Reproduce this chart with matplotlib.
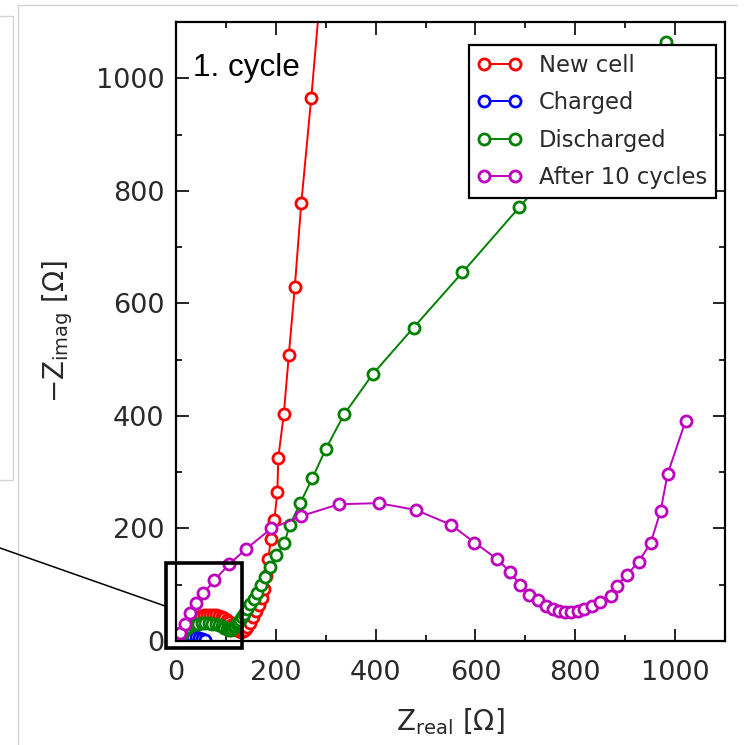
import matplotlib
matplotlib.use("Agg")
import matplotlib.pyplot as plt
from matplotlib.lines import Line2D
from matplotlib.patches import Rectangle
from matplotlib.ticker import MultipleLocator

# impedance spectra, values (Ohm)
new_cell_re = [5, 8, 11, 14, 18, 22, 27, 32, 38, 44, 50, 56, 62, 68, 74, 80, 86, 92, 97,
               102, 107, 111, 115, 119, 123, 127, 131, 135, 139, 143, 148, 155, 161, 167,
               172, 177, 181, 185, 190, 197, 203, 205, 216, 226, 238, 251, 271, 292]
new_cell_im = [2, 6, 11, 16, 21, 26, 31, 35, 39, 42, 44, 46, 47, 47, 47, 46, 45, 43, 40,
               37, 33, 29, 25, 22, 19, 17, 16, 17, 20, 25, 32, 42, 53, 64,
               77, 93, 115, 146, 181, 215, 264, 326, 403, 508, 629, 778, 965, 1180]

charged_re = [4, 8, 13, 19, 26, 33, 40, 47, 53, 58]
charged_im = [1, 3, 5, 7, 8, 8, 7, 5, 3, 1]

discharged_re = [5, 8, 12, 16, 21, 26, 32, 38, 45, 52, 59, 66, 73, 80, 86, 92, 97, 102,
                 106, 110, 113, 116, 119, 122, 125, 128, 132, 137, 143, 149, 156, 163,
                 170, 178, 188, 201, 217, 228, 249, 273, 300, 337, 394, 476, 574, 688,
                 822, 981]
discharged_im = [2, 7, 12, 17, 21, 25, 28, 30, 31, 32, 32, 32, 31, 30, 28, 26, 23, 21,
                 19, 19, 21, 24, 27, 30, 34, 38, 43, 48, 56, 65, 75, 86,
                 99, 114, 131, 152, 174, 206, 245, 289, 341, 403, 474, 557, 655, 771,
                 906, 1065]

cycled_re = [3, 9, 18, 29, 40, 55, 77, 106, 141, 191, 251, 326, 406, 480, 550, 598, 643,
             670, 690, 707, 725, 741, 755, 768, 780, 791, 805, 818, 833, 850, 871, 883,
             903, 927, 951, 971, 985, 1021]
cycled_im = [3, 15, 31, 49, 67, 85, 108, 136, 164, 200, 222, 243, 245, 233, 207, 175, 146,
             122, 99, 82, 73, 62, 56, 53, 51, 51, 53, 57, 63, 70, 80, 98,
             117, 141, 174, 231, 297, 391]

labels = ["New cell", "Charged", "Discharged", "After 10 cycles"]
colors = ["#ff0000", "#0000ff", "#008000", "#bf00bf"]

W = 745.0


def _fig_xy(x, y):
    # pixel position of the slide -> figure fraction
    return x / W, 1 - y / W


def main():
    plt.rcParams["mathtext.fontset"] = "dejavusans"
    fig = plt.figure(figsize=(7.45, 7.45), dpi=100)
    x0, y0 = _fig_xy(176, 641)
    ax = fig.add_axes([x0, y0, 549 / W, 619 / W])

    series = [(new_cell_re, new_cell_im), (charged_re, charged_im),
              (discharged_re, discharged_im), (cycled_re, cycled_im)]
    for (re, im), label, color in zip(series, labels, colors):
        ax.plot(re, im, "-o", color=color, lw=1.4, ms=8, mew=2.0,
                mfc="white", mec=color, label=label)

    ax.set_xlim(0, 1100)
    ax.set_ylim(0, 1100)
    ax.xaxis.set_major_locator(MultipleLocator(200))
    ax.xaxis.set_minor_locator(MultipleLocator(100))
    ax.yaxis.set_major_locator(MultipleLocator(200))
    ax.yaxis.set_minor_locator(MultipleLocator(100))
    ax.tick_params(which="both", direction="in", top=True, right=True,
                   width=1.2, labelsize=19.5, labelcolor="#2a2a2a")
    ax.tick_params(which="major", length=9)
    ax.tick_params(which="minor", length=4.5)
    ax.tick_params(axis="x", pad=14)
    ax.tick_params(axis="y", pad=8.5)
    for sp in ax.spines.values():
        sp.set_linewidth(1.6)

    ax.set_xlabel(r"$\mathrm{Z_{real}}$ [Ω]", fontsize=20, color="#2a2a2a")
    ax.set_ylabel(r"$-\mathrm{Z_{imag}}$ [Ω]", fontsize=20, color="#2a2a2a")
    ax.xaxis.set_label_coords(0.5, -0.105)
    ax.yaxis.set_label_coords(-0.184, 0.5)

    lx, ly = _fig_xy(716, 45)
    leg = ax.legend(loc="upper right", bbox_to_anchor=(lx, ly),
                    bbox_transform=fig.transFigure, borderaxespad=0,
                    numpoints=2, fontsize=16.3, fancybox=False, framealpha=1,
                    edgecolor="black", borderpad=0.4, handlelength=1.95,
                    handletextpad=0.75, labelspacing=0.63)
    leg.get_frame().set_linewidth(1.6)
    for t in leg.get_texts():
        t.set_color("#2a2a2a")

    tx, ty = _fig_xy(193, 76)
    fig.text(tx, ty, "1. cycle", fontsize=22.7, family="Liberation Sans",
             va="baseline", ha="left", color="black")

    # slide decorations: faint frames, zoom box and its callout line
    grey = "#d4d4d4"
    frames = [[(0, 16), (13, 16), (13, 480), (0, 480)],
              [(18, 745), (18, 5), (737, 5)]]
    for pts in frames:
        xs, ys = zip(*[_fig_xy(px, py) for px, py in pts])
        fig.add_artist(Line2D(xs, ys, color=grey, lw=1, transform=fig.transFigure))

    p1 = _fig_xy(0, 548)
    p2 = _fig_xy(165, 606)
    fig.add_artist(Line2D([p1[0], p2[0]], [p1[1], p2[1]], color="black", lw=1.1,
                          transform=fig.transFigure))
    bx, by = _fig_xy(166, 648)
    fig.add_artist(Rectangle((bx, by), 76 / W, 85 / W, fill=False, ec="black",
                             lw=2.6, transform=fig.transFigure, zorder=5))

    fig.savefig("out.png", dpi=100, facecolor="white")


if __name__ == "__main__":
    main()
